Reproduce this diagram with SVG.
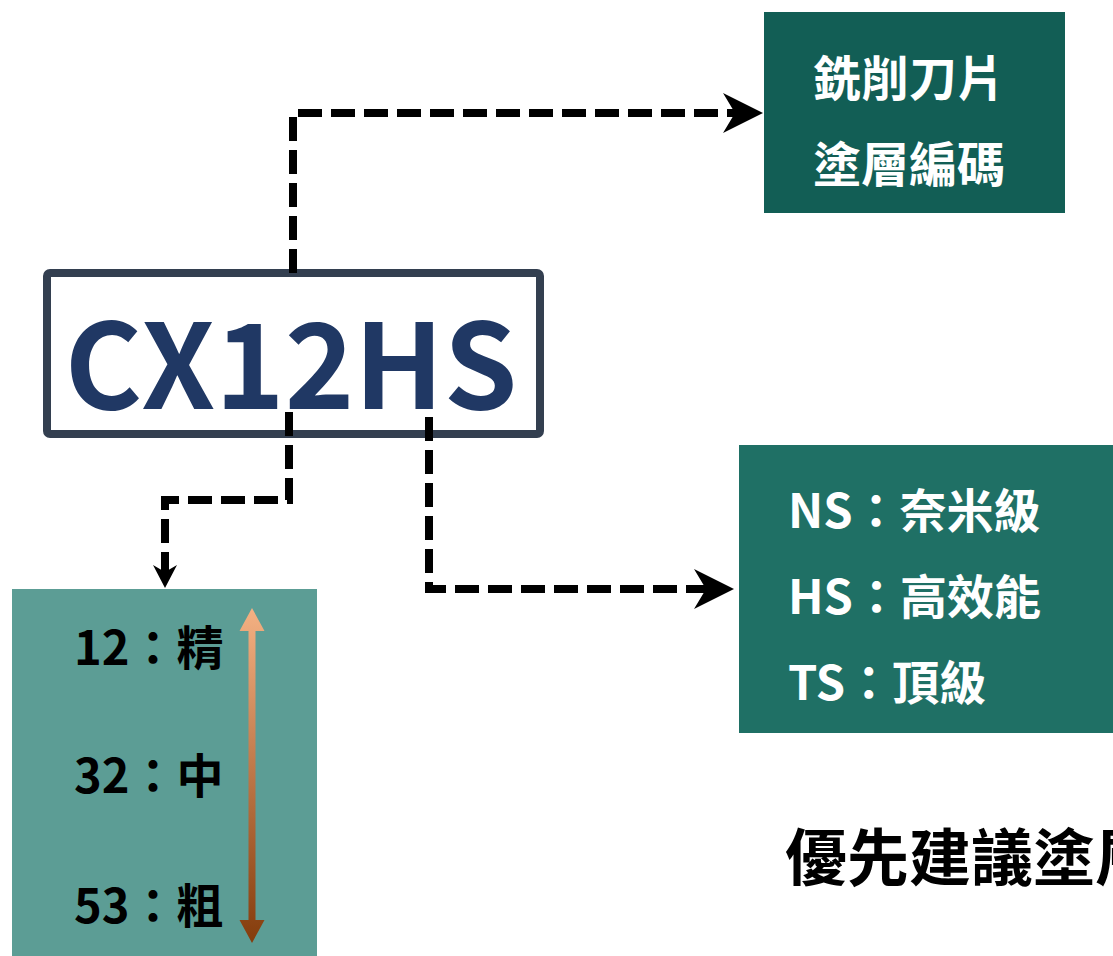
<svg xmlns="http://www.w3.org/2000/svg" width="1113" height="956" viewBox="0 0 1113 956">
  <defs>
    <style>
      .t { font-family: "Noto Sans CJK TC", "Noto Sans CJK SC", "Noto Sans", sans-serif; font-weight: 700; }
      .w { fill: #ffffff; }
      .k { fill: #000000; }
      .conn { fill: none; stroke: #000000; stroke-width: 8; stroke-dasharray: 24 9; }
    </style>
    <marker id="bigArrow" markerUnits="userSpaceOnUse" viewBox="0 0 40 40" refX="12" refY="20" markerWidth="40" markerHeight="40" orient="auto">
      <path d="M0,0 L40,20 L0,40 L12,20 Z" fill="#000000"/>
    </marker>
    <marker id="smallArrow" markerUnits="userSpaceOnUse" viewBox="0 0 23 24" refX="7" refY="12" markerWidth="23" markerHeight="24" orient="auto">
      <path d="M0,0 L23,12 L0,24 L7,12 Z" fill="#000000"/>
    </marker>
    <linearGradient id="gradArrow" x1="0" y1="0" x2="0" y2="1">
      <stop offset="0" stop-color="#F4B183"/>
      <stop offset="1" stop-color="#843C0C"/>
    </linearGradient>
  </defs>

  <rect width="1113" height="956" fill="#ffffff"/>

  <g id="node-code">
    <rect x="47" y="273" width="493" height="161" rx="3" fill="#ffffff" stroke="#333F50" stroke-width="8"/>
    <text class="t" x="291" y="409" font-size="118" text-anchor="middle" fill="#203864">CX12HS</text>
  </g>

  <g id="node-coating-code">
    <rect x="764" y="12" width="301" height="201" fill="#125E55"/>
    <text class="t w" x="813" y="96" font-size="48">銑削刀片</text>
    <text class="t w" x="813" y="182" font-size="48">塗層編碼</text>
  </g>

  <g id="node-grade">
    <rect x="739" y="445" width="374" height="288" fill="#1F7065"/>
    <text class="t w" x="788" y="528" font-size="47">NS：奈米級</text>
    <text class="t w" x="788" y="614" font-size="47">HS：高效能</text>
    <text class="t w" x="788" y="700" font-size="47">TS：頂級</text>
  </g>

  <g id="node-precision">
    <rect x="12" y="589" width="305" height="367" fill="#5C9D95"/>
    <text class="t k" x="74" y="665" font-size="47">12：精</text>
    <text class="t k" x="74" y="793" font-size="47">32：中</text>
    <text class="t k" x="74" y="923" font-size="47">53：粗</text>
    <path d="M252,608 L264.5,631 L255.5,631 L255.5,920 L264.5,920 L252,943 L239.5,920 L248.5,920 L248.5,631 L239.5,631 Z" fill="url(#gradArrow)"/>
  </g>

  <g id="node-note">
    <text class="t k" x="785" y="881" font-size="62">優先建議塗層</text>
  </g>

  <g id="connectors">
    <path class="conn" d="M293,273 V113 H735" marker-end="url(#bigArrow)"/>
    <path class="conn" d="M289,412 V500 H165 V572" marker-end="url(#smallArrow)"/>
    <path class="conn" d="M429,417 V589 H706" marker-end="url(#bigArrow)"/>
  </g>
</svg>
